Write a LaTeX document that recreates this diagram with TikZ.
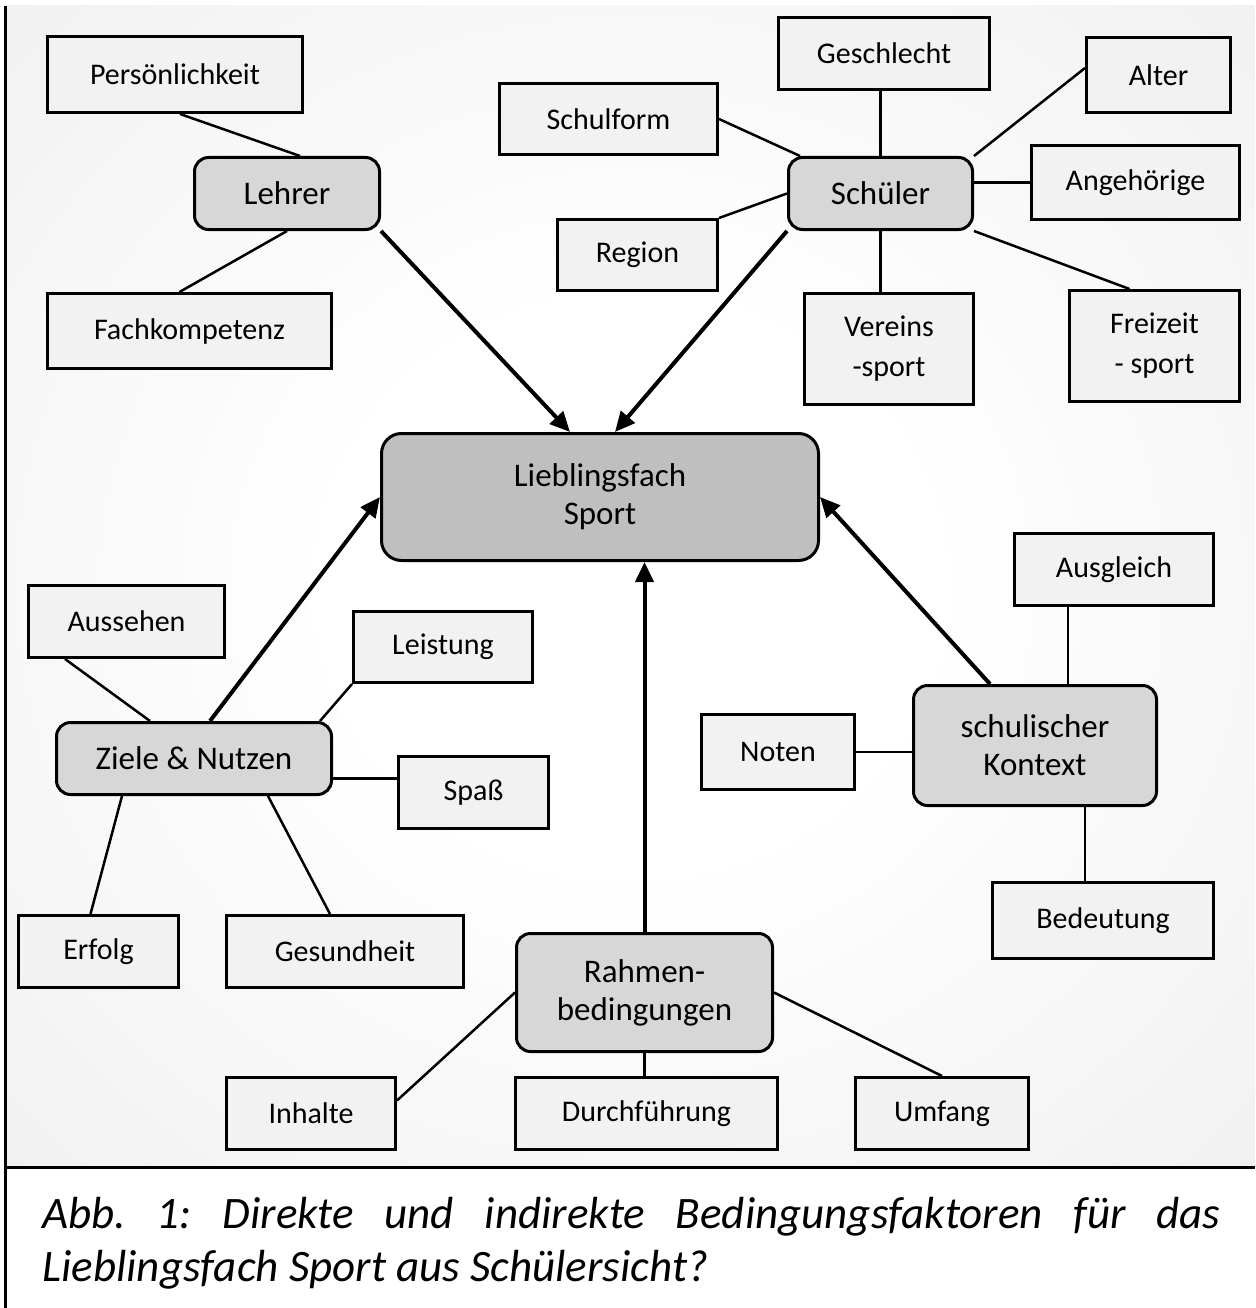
\documentclass[tikz,border=0pt]{standalone}
\usepackage{fontspec}
\setmainfont{Carlito}
\usetikzlibrary{arrows.meta,calc}

\definecolor{bggray}{HTML}{D8D8D8}
\definecolor{hubgray}{HTML}{D7D7D7}
\definecolor{maingray}{HTML}{BFBFBF}
\definecolor{leafgray}{HTML}{F2F2F2}
\pgfdeclareradialshading{bgglow}{\pgfpoint{0bp}{0bp}}{color(0bp)=(white); color(12bp)=(white); color(78bp)=(bggray); color(100bp)=(bggray)}

\tikzset{every picture/.style={line width=1pt},
	leaf/.style={draw, line width=3pt, fill=leafgray, inner sep=0pt, align=center, font=\fontsize{30}{40}\selectfont},
	hub/.style={draw, line width=3pt, fill=hubgray, rounded corners=14pt, inner sep=0pt, align=center, font=\fontsize{33}{38}\selectfont},
	link/.style={line width=2.5pt},
	push/.style={line width=4pt, -{Triangle[length=20pt,width=18pt]}}}

\begin{document}
\begin{tikzpicture}[x=1pt,y=1pt,yscale=-1,xscale=1]
	\useasboundingbox (0,0) rectangle (1255,1308);
	
	%Background
	\shade[shading=bgglow] (6.5,6) rectangle (1255,1166);
	\draw [line width=3pt] (5,6) -- (5,1308);
	\draw [line width=3pt] (3.5,1167) -- (1255,1167);
	
	%Hubs
	\node [hub, fill=maingray, rounded corners=20pt, minimum width=437pt, minimum height=127pt] (sport) at (600,497) {Lieblingsfach\\Sport};
	\node [hub, minimum width=185pt, minimum height=72pt] (lehrer) at (287,193.5) {Lehrer};
	\node [hub, minimum width=184pt, minimum height=72pt] (schueler) at (880.5,193.5) {Schüler};
	\node [hub, minimum width=275pt, minimum height=72pt] (ziele) at (194,758.5) {Ziele \& Nutzen};
	\node [hub, minimum width=243pt, minimum height=120pt] (kontext) at (1035,745.5) {schulischer\\Kontext};
	\node [hub, minimum width=256pt, minimum height=118pt] (rahmen) at (644.5,992.5) {Rahmen-\\bedingungen};
	
	%Leaves: Lehrer
	\node [leaf, minimum width=255pt, minimum height=76pt] (pers) at (175,74.5) {Persönlichkeit};
	\node [leaf, minimum width=284pt, minimum height=75pt] (fach) at (189.5,331) {Fachkompetenz};
	%Leaves: Schüler
	\node [leaf, minimum width=218pt, minimum height=71pt] (schulform) at (608.5,119) {Schulform};
	\node [leaf, minimum width=211pt, minimum height=72pt] (geschlecht) at (884,53.5) {Geschlecht};
	\node [leaf, minimum width=144pt, minimum height=75pt] (alter) at (1158.5,75) {Alter};
	\node [leaf, minimum width=208pt, minimum height=74pt] (angeh) at (1135.5,182.5) {Angehörige};
	\node [leaf, minimum width=160pt, minimum height=71pt] (region) at (637.5,255) {Region};
	\node [leaf, minimum width=169pt, minimum height=111pt] (vereins) at (889,349) {Vereins\\-sport};
	\node [leaf, minimum width=170pt, minimum height=111pt] (freizeit) at (1154.5,346) {Freizeit\\- sport};
	%Leaves: Ziele
	\node [leaf, minimum width=196pt, minimum height=72pt] (aussehen) at (126.5,621.5) {Aussehen};
	\node [leaf, minimum width=179pt, minimum height=71pt] (leistung) at (443,647) {Leistung};
	\node [leaf, minimum width=150pt, minimum height=72pt] (spass) at (473.5,792.5) {Spaß};
	\node [leaf, minimum width=160pt, minimum height=72pt] (erfolg) at (98.5,951.5) {Erfolg};
	\node [leaf, minimum width=237pt, minimum height=72pt] (gesund) at (345,951.5) {Gesundheit};
	%Leaves: Kontext
	\node [leaf, minimum width=199pt, minimum height=72pt] (ausgleich) at (1114,569.5) {Ausgleich};
	\node [leaf, minimum width=153pt, minimum height=75pt] (noten) at (778,752) {Noten};
	\node [leaf, minimum width=221pt, minimum height=76pt] (bedeutung) at (1103,920.5) {Bedeutung};
	%Leaves: Rahmen
	\node [leaf, minimum width=169pt, minimum height=72pt] (inhalte) at (311,1113.5) {Inhalte};
	\node [leaf, minimum width=262pt, minimum height=72pt] (durch) at (646.5,1113.5) {Durchführung};
	\node [leaf, minimum width=173pt, minimum height=72pt] (umfang) at (942,1113.5) {Umfang};
	
	%Straight Lines
	\coordinate (spassin) at ($(spass.west)+(0,-14)$);
	\coordinate (inhaltein) at ($(inhalte.east)+(0,-13)$);
	\coordinate (alterin) at ($(alter.west)+(0,-7)$);
	\draw [link] ([xshift=5pt]pers.south) -- ([xshift=13pt]lehrer.north);
	\draw [link] (lehrer.south) -- ([xshift=-10pt]fach.north);
	\draw [link] (schulform.east) -- ([xshift=13pt]schueler.north west);
	\draw [link] (region.north east) -- (schueler.west);
	\draw [link] (schueler.north) -- (schueler.north |- geschlecht.south);
	\draw [link] (alterin) -- (schueler.north east);
	\draw [link] (angeh.west) -- (angeh.west -| schueler.east);
	\draw [link] (schueler.south east) -- ([xshift=-25pt]freizeit.north);
	\draw [link] (schueler.south) -- (schueler.south |- vereins.north);
	\draw [link] ([xshift=38pt]aussehen.south west) -- ([xshift=-44pt]ziele.north);
	\draw [link] (leistung.south west) -- ([xshift=-13pt]ziele.north east);
	\draw [link] (spassin) -- (spassin -| ziele.east);
	\draw [link] ([xshift=-72pt]ziele.south) -- ([xshift=-8pt]erfolg.north);
	\draw [link] ([xshift=74pt]ziele.south) -- ([xshift=-15pt]gesund.north);
	\draw [link] ([xshift=-46pt]ausgleich.south) -- ([xshift=-46pt]ausgleich.south |- kontext.north);
	\draw [link] (noten.east) -- (noten.east -| kontext.west);
	\draw [link] ([xshift=50pt]kontext.south) -- ([xshift=50pt]kontext.south |- bedeutung.north);
	\draw [link] (rahmen.west) -- (inhaltein);
	\draw [link] (rahmen.south) -- (rahmen.south |- durch.north);
	\draw [link] (rahmen.east) -- (umfang.north);
	
	%Arrows
	\draw [push] (lehrer.south east) -- ([xshift=-30pt]sport.north);
	\draw [push] (schueler.south west) -- ([xshift=15pt]sport.north);
	\draw [push] ([xshift=16pt]ziele.north) -- (sport.west);
	\draw [push] ([xshift=-45pt]kontext.north) -- (sport.east);
	\draw [push] (rahmen.north) -- (rahmen.north |- sport.south);
	
	% Text Node
	\node [anchor=north west, inner sep=0pt, text width=1178pt, align=justify, font=\fontsize{45}{53}\selectfont\itshape] (caption) at (42,1197) {\frenchspacing\tolerance=10000 \hyphenpenalty=10000 Abb. 1: Direkte und indirekte Bedingungsfaktoren für das\linebreak Lieblingsfach Sport aus Schülersicht?};
\end{tikzpicture}
\end{document}
